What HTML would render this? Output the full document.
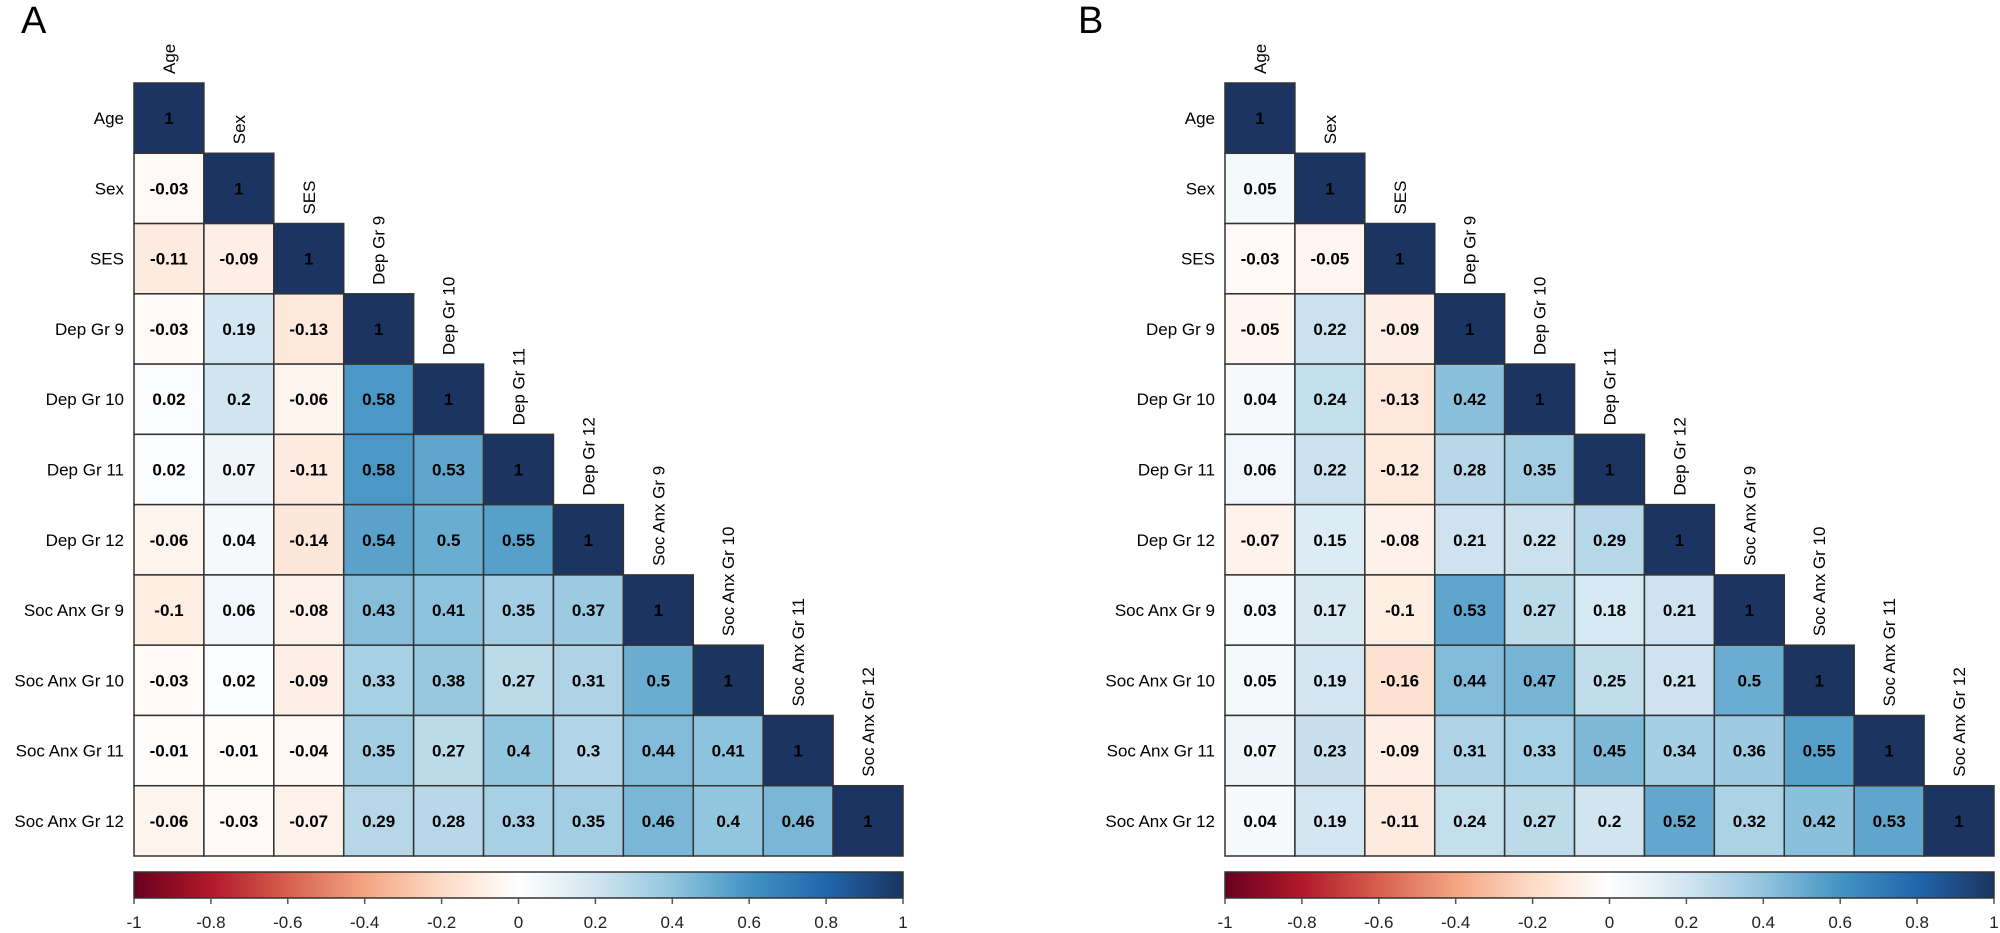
<!DOCTYPE html>
<html><head><meta charset="utf-8"><style>
html,body{margin:0;padding:0;background:#fff;}
svg{display:block;font-family:"Liberation Sans",Arial,sans-serif;}
</style></head><body>
<svg id="chart" width="2000" height="933" viewBox="0 0 2000 933" xmlns="http://www.w3.org/2000/svg">
<defs>
<linearGradient id="rdbu" x1="0" x2="1" y1="0" y2="0">
<stop offset="0" stop-color="#67001F"/><stop offset="0.1" stop-color="#B2182B"/><stop offset="0.2" stop-color="#D6604D"/><stop offset="0.3" stop-color="#F4A582"/><stop offset="0.4" stop-color="#FDDBC7"/><stop offset="0.5" stop-color="#FFFFFF"/><stop offset="0.6" stop-color="#D1E5F0"/><stop offset="0.7" stop-color="#92C5DE"/><stop offset="0.8" stop-color="#4393C3"/><stop offset="0.9" stop-color="#2166AC"/><stop offset="1" stop-color="#1b3461"/>
</linearGradient>
</defs>
</svg>
<script>
const variables = ["Age","Sex","SES","Dep Gr 9","Dep Gr 10","Dep Gr 11","Dep Gr 12","Soc Anx Gr 9","Soc Anx Gr 10","Soc Anx Gr 11","Soc Anx Gr 12"];
const corrA = [
 [1],
 [-0.03,1],
 [-0.11,-0.09,1],
 [-0.03,0.19,-0.13,1],
 [0.02,0.2,-0.06,0.58,1],
 [0.02,0.07,-0.11,0.58,0.53,1],
 [-0.06,0.04,-0.14,0.54,0.5,0.55,1],
 [-0.1,0.06,-0.08,0.43,0.41,0.35,0.37,1],
 [-0.03,0.02,-0.09,0.33,0.38,0.27,0.31,0.5,1],
 [-0.01,-0.01,-0.04,0.35,0.27,0.4,0.3,0.44,0.41,1],
 [-0.06,-0.03,-0.07,0.29,0.28,0.33,0.35,0.46,0.4,0.46,1]
];
const corrB = [
 [1],
 [0.05,1],
 [-0.03,-0.05,1],
 [-0.05,0.22,-0.09,1],
 [0.04,0.24,-0.13,0.42,1],
 [0.06,0.22,-0.12,0.28,0.35,1],
 [-0.07,0.15,-0.08,0.21,0.22,0.29,1],
 [0.03,0.17,-0.1,0.53,0.27,0.18,0.21,1],
 [0.05,0.19,-0.16,0.44,0.47,0.25,0.21,0.5,1],
 [0.07,0.23,-0.09,0.31,0.33,0.45,0.34,0.36,0.55,1],
 [0.04,0.19,-0.11,0.24,0.27,0.2,0.52,0.32,0.42,0.53,1]
];
const colorbarTicks = [-1,-0.8,-0.6,-0.4,-0.2,0,0.2,0.4,0.6,0.8,1];

const stops = ["#67001F","#B2182B","#D6604D","#F4A582","#FDDBC7","#FFFFFF","#D1E5F0","#92C5DE","#4393C3","#2166AC","#1b3461"];
function hex(h){return [1,3,5].map(i=>parseInt(h.substr(i,2),16));}
function color(v){
  const t=(v+1)/2*10; let i=Math.min(9,Math.floor(t)); const f=t-i;
  const a=hex(stops[i]), b=hex(stops[i+1]);
  return "rgb("+a.map((c,k)=>Math.round(c+(b[k]-c)*f)).join(",")+")";
}
const NS="http://www.w3.org/2000/svg";
const svg=document.getElementById("chart");
function mk(tag,attrs,parent){const e=document.createElementNS(NS,tag);for(const k in attrs)e.setAttribute(k,attrs[k]);(parent||svg).appendChild(e);return e;}

function panel(letter,data,x0,letterX){
  const g=mk("g",{});
  
  
  const top=83, cw=769/11, ch=773/11;
  const xs=j=>x0+j*cw, ys=i=>top+i*ch;
  const L=mk("text",{x:letterX,y:33,"font-size":38,fill:"#000","font-family":"Liberation Sans, sans-serif"},g);
  L.textContent=letter;
  
  
  data.forEach((row,i)=>{
    const rl=mk("text",{x:x0-10,y:ys(i)+ch/2+6,"text-anchor":"end","font-size":17,fill:"#000"},g);
    rl.textContent=variables[i];
    
    
    const cx=xs(i)+cw/2, cy=ys(i)-9;
    const cl=mk("text",{x:0,y:0,"font-size":17,fill:"#000",transform:`translate(${cx+6},${cy}) rotate(-90)`},g);
    cl.textContent=variables[i];
    
    
    row.forEach((v,j)=>{
      const r=mk("rect",{x:xs(j),y:ys(i),width:cw,height:ch,fill:color(v),stroke:"#333","stroke-width":1.5},g);
      
      
      const t=mk("text",{x:xs(j)+cw/2,y:ys(i)+ch/2+6,"text-anchor":"middle","font-size":17,"font-weight":"bold",fill:"#000"},g);
      t.textContent=String(v);
      
      
    });
  });
  const bx0=x0, bx1=x0+769, by=872, bh=26;
  const bar=mk("rect",{x:bx0,y:by,width:bx1-bx0,height:bh,fill:"url(#rdbu)",stroke:"#333","stroke-width":1.5},g);
  
  
  colorbarTicks.forEach(v=>{
    const x=bx0+(v+1)/2*(bx1-bx0);
    const tl=mk("line",{x1:x,x2:x,y1:by+bh,y2:by+bh+6,stroke:"#555","stroke-width":1.5},g);
    
    
    const tt=mk("text",{x:x,y:928,"text-anchor":"middle","font-size":17,fill:"#222"},g);
    tt.textContent=String(v);
    
    
  });
}
panel("A",corrA,134,21);
panel("B",corrB,1225,1078);
</script>
</body></html>
